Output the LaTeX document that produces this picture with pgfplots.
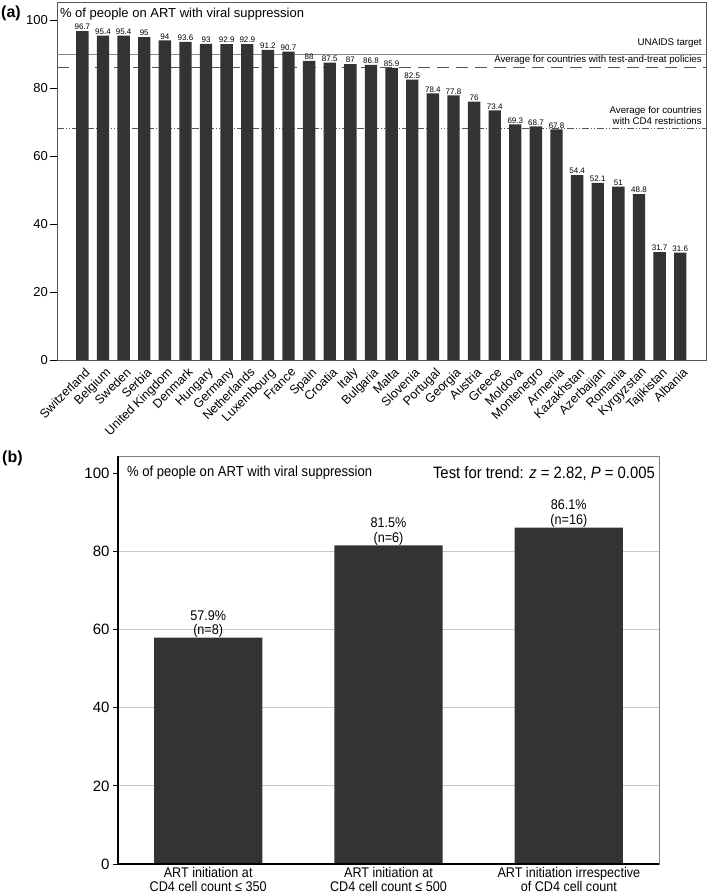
\documentclass[border=0pt]{standalone}
\usepackage{fontspec}
\setmainfont{Liberation Sans}
\newfontfamily\narrowfont{Liberation Sans}[FakeStretch=0.9]
\usepackage{pgfplots}
\pgfplotsset{compat=1.18}
\definecolor{barfill}{HTML}{333333}
\definecolor{frame}{HTML}{555555}
\definecolor{refsolid}{HTML}{8A8A8A}
\definecolor{refdash}{HTML}{555555}
\definecolor{griddy}{HTML}{C8C8C8}

\begin{document}
\begin{tikzpicture}[x=1pt,y=1pt]
\useasboundingbox (0,0) rectangle (709,896);
\node[anchor=west, font=\bfseries\fontsize{16}{18}\selectfont, inner sep=0] at (1,883) {(a)};
\node[anchor=west, font=\bfseries\fontsize{16}{18}\selectfont, inner sep=0] at (2,438) {(b)};

% ---- panel (a): viral suppression by country
\begin{axis}[
  at={(57pt,536pt)}, anchor=south west, scale only axis,
  width=649pt, height=358pt,
  xmin=-0.23, xmax=31.25, ymin=0, ymax=105.3,
  /pgf/number format/assume math mode=true,
  axis line style={draw=frame, line width=0.8pt},
  ytick={0,20,...,100}, ytick pos=left, tick align=outside,
  major tick length=7pt,
  y tick style={draw=black, line width=0.8pt},
  yticklabel style={font=\fontsize{13}{15}\selectfont, inner sep=2pt},
  xtick={1,...,30},
  x tick style={draw=none},
  xticklabels={Switzerland,Belgium,Sweden,Serbia,United Kingdom,Denmark,Hungary,Germany,Netherlands,Luxembourg,France,Spain,Croatia,Italy,Bulgaria,Malta,Slovenia,Portugal,Georgia,Austria,Greece,Moldova,Montenegro,Armenia,Kazakhstan,Azerbaijan,Romania,Kyrgyzstan,Tajikistan,Albania},
  xticklabel style={rotate=45, anchor=north east, inner sep=1pt, xshift=2.5pt,
    font=\fontsize{12.5}{14}\selectfont},
  clip=false,
]
% reference lines
\addplot[refsolid, line width=0.9pt] coordinates {(-0.23,90) (31.25,90)};
\addplot[refdash, line width=1.3pt, dash pattern=on 12pt off 7pt] coordinates {(-0.23,86.1) (31.25,86.1)};
\addplot[refdash, line width=0.9pt, dash pattern=on 7pt off 2pt on 1pt off 2pt on 1pt off 2pt] coordinates {(-0.23,68) (31.25,68)};
% bars
\addplot[ybar, bar width=0.6, fill=barfill, draw=none,
  nodes near coords,
  every node near coord/.append style={font=\fontsize{8}{9}\selectfont, inner sep=1pt}]
  coordinates {
  (1,96.7) (2,95.4) (3,95.4) (4,95) (5,94) (6,93.6) (7,93) (8,92.9) (9,92.9) (10,91.2)
  (11,90.7) (12,88) (13,87.5) (14,87) (15,86.8) (16,85.9) (17,82.5) (18,78.4) (19,77.8) (20,76)
  (21,73.4) (22,69.3) (23,68.7) (24,67.8) (25,54.4) (26,52.1) (27,51) (28,48.8) (29,31.7) (30,31.6)
};
\node[anchor=west, font=\fontsize{13}{15}\selectfont, inner sep=0] at (axis cs:-0.09,101.8)
  {\% of people on ART with viral suppression};
\node[anchor=east, font=\fontsize{9.7}{11}\selectfont, inner sep=0] at (axis cs:31.05,93.2) {UNAIDS target};
\node[anchor=east, font=\fontsize{9.7}{11}\selectfont, inner sep=0] at (axis cs:31.05,88.2)
  {Average for countries with test-and-treat policies};
\node[anchor=east, align=right, font=\fontsize{9.7}{11}\selectfont, inner sep=0] at (axis cs:31.05,72)
  {Average for countries\\with CD4 restrictions};
\end{axis}

% ---- panel (b): by ART initiation policy
\begin{axis}[
  at={(118pt,32pt)}, anchor=south west, scale only axis,
  width=541pt, height=408pt,
  xmin=0.5, xmax=3.5, ymin=0, ymax=104.4,
  /pgf/number format/assume math mode=true,
  axis line style={draw=gray, line width=0.7pt},
  ytick={0,20,...,100}, ytick pos=left, tick align=outside,
  major tick length=5pt,
  y tick style={draw=black, line width=0.9pt},
  yticklabel style={font=\fontsize{15}{17}\selectfont},
  xtick={1,2,3},
  x tick style={draw=none},
  xticklabels={{ART initiation at\\CD4 cell count ≤ 350},{ART initiation at\\CD4 cell count ≤ 500},{ART initiation irrespective\\of CD4 cell count}},
  xticklabel style={align=center, font=\narrowfont\fontsize{14}{14.5}\selectfont, inner sep=0pt, yshift=2pt},
  after end axis/.code={
    \draw[black, line width=1.3pt] (rel axis cs:0,1) -- (rel axis cs:0,0) -- (rel axis cs:1,0);
  },
]
\addplot[griddy, line width=0.8pt] coordinates {(0.5,20) (3.5,20)};
\addplot[griddy, line width=0.8pt] coordinates {(0.5,40) (3.5,40)};
\addplot[griddy, line width=0.8pt] coordinates {(0.5,60) (3.5,60)};
\addplot[griddy, line width=0.8pt] coordinates {(0.5,80) (3.5,80)};
\addplot[ybar, bar width=0.6, fill=barfill, draw=none,
  point meta=explicit symbolic,
  nodes near coords,
  every node near coord/.append style={align=center, inner sep=0pt,
    font=\narrowfont\fontsize{14}{14.5}\selectfont}]
  coordinates {
  (1,57.9) [{57.9\%\\(n=8)}]
  (2,81.5) [{81.5\%\\(n=6)}]
  (3,86.1) [{86.1\%\\(n=16)}]
};
\node[anchor=west, font=\narrowfont\fontsize{14.5}{16}\selectfont, inner sep=0] at (axis cs:0.55,100)
  {\% of people on ART with viral suppression};
\node[anchor=east, font=\narrowfont\fontsize{16.5}{18}\selectfont, inner sep=0] at (axis cs:3.478,100)
  {Test for trend: \textit{z} = 2.82, \textit{P} = 0.005};
\end{axis}
\end{tikzpicture}
\end{document}
